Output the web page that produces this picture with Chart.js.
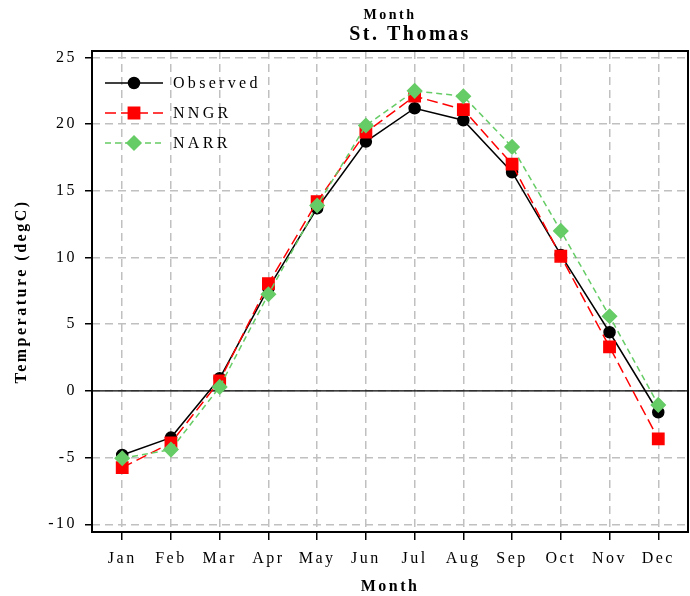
<!DOCTYPE html>
<html>
<head>
<meta charset="utf-8">
<title>St. Thomas</title>
<script src="https://cdn.jsdelivr.net/npm/chart.js@4/dist/chart.umd.min.js"></script>
<style>
  html, body { margin: 0; padding: 0; background: #fff; }
  #chart1 { display: block; }
</style>
</head>
<body>
<canvas id="chart1" width="690" height="596"></canvas>
<script>
const months = ['Jan', 'Feb', 'Mar', 'Apr', 'May', 'Jun', 'Jul', 'Aug', 'Sep', 'Oct', 'Nov', 'Dec'];
const observed = [-4.8, -3.5, 0.95, 7.7, 13.7, 18.7, 21.2, 20.3, 16.4, 10.2, 4.4, -1.6];
const nngr = [-5.75, -3.9, 0.75, 8.05, 14.2, 19.4, 22.1, 21.1, 17.0, 10.1, 3.3, -3.6];
const narr = [-5.05, -4.4, 0.3, 7.25, 13.9, 19.9, 22.5, 22.1, 18.3, 12.0, 5.6, -1.05];
const yTicks = [-10, -5, 0, 5, 10, 15, 20, 25];

const serif = "'Liberation Serif', 'DejaVu Serif', serif";
const toPoints = arr => arr.map((v, i) => ({ x: i, y: v }));

// spaced-out lettering used throughout the plot
const spacing = {
    id: 'spacing',
    beforeUpdate(chart) { chart.ctx.letterSpacing = '2.5px'; },
    beforeDraw(chart) { chart.ctx.letterSpacing = '2.5px'; }
};

// frame around the plot area and the solid line at zero
const frame = {
    id: 'frame',
    beforeDatasetsDraw(chart) {
        const { ctx, chartArea: a, scales } = chart;
        ctx.save();
        const y0 = scales.y.getPixelForValue(0);
        ctx.strokeStyle = '#000';
        ctx.lineWidth = 1.2;
        ctx.beginPath();
        ctx.moveTo(a.left, y0);
        ctx.lineTo(a.right, y0);
        ctx.stroke();
        ctx.lineWidth = 2;
        ctx.strokeRect(a.left, a.top, a.right - a.left, a.bottom - a.top);
        ctx.restore();
    }
};

// the two heading lines above the frame
const headings = {
    id: 'headings',
    afterDraw(chart) {
        const { ctx } = chart;
        ctx.save();
        ctx.letterSpacing = '2.5px';
        ctx.fillStyle = '#000';
        ctx.textAlign = 'center';
        ctx.textBaseline = 'middle';
        ctx.font = 'bold 14px ' + serif;
        ctx.fillText('Month', 390, 15);
        ctx.font = 'bold 20px ' + serif;
        ctx.fillText('St. Thomas', 410, 35);
        ctx.restore();
    }
};

// legend box in the upper left corner, line + marker + name
const insetLegend = {
    id: 'insetLegend',
    afterDraw(chart) {
        const { ctx, chartArea: a } = chart;
        ctx.save();
        ctx.letterSpacing = '3.3px';
        ctx.font = '16px ' + serif;
        ctx.textBaseline = 'middle';
        chart.data.datasets.forEach((ds, i) => {
            const y = a.top + 32 + i * 30;
            const x0 = a.left + 13;
            ctx.strokeStyle = ds.borderColor;
            ctx.lineWidth = ds.borderWidth;
            ctx.setLineDash(ds.borderDash || []);
            ctx.beginPath();
            ctx.moveTo(x0, y);
            ctx.lineTo(x0 + 58, y);
            ctx.stroke();
            ctx.setLineDash([]);
            ctx.fillStyle = ds.pointBackgroundColor;
            ctx.strokeStyle = ds.pointBackgroundColor;
            Chart.helpers.drawPoint(ctx, {
                pointStyle: ds.pointStyle,
                radius: ds.pointRadius,
                rotation: 0,
                borderWidth: 1
            }, x0 + 29, y);
            ctx.fillStyle = '#000';
            ctx.fillText(ds.label, x0 + 68, y + 1);
        });
        ctx.restore();
    }
};

const chart1 = document.getElementById('chart1');
const myChart = new Chart(chart1, {
    type: 'line',
    data: {
        datasets: [{
            label: 'Observed',
            data: toPoints(observed),
            borderColor: '#000000',
            borderWidth: 1.5,
            pointStyle: 'circle',
            pointRadius: 5.5,
            pointBackgroundColor: '#000000',
            pointBorderColor: '#000000',
            order: 3
        }, {
            label: 'NNGR',
            data: toPoints(nngr),
            borderColor: '#ff0000',
            borderWidth: 1.5,
            borderDash: [11, 5],
            pointStyle: 'rect',
            pointRadius: 8,
            pointBackgroundColor: '#ff0000',
            pointBorderColor: '#ff0000',
            order: 2
        }, {
            label: 'NARR',
            data: toPoints(narr),
            borderColor: '#66cc66',
            borderWidth: 1.5,
            borderDash: [6, 4],
            pointStyle: 'rectRot',
            pointRadius: 7,
            pointBackgroundColor: '#66cc66',
            pointBorderColor: '#66cc66',
            order: 1
        }]
    },
    options: {
        responsive: false,
        animation: false,
        layout: { autoPadding: false, padding: { left: 0, right: 2, top: 51, bottom: 0 } },
        plugins: {
            legend: { display: false },
            tooltip: { enabled: false },
            title: { display: false }
        },
        scales: {
            x: {
                type: 'linear',
                min: -0.62,
                max: 11.61,
                afterBuildTicks: scale => { scale.ticks = months.map((m, i) => ({ value: i })); },
                afterFit: scale => {
                    scale.height = 64;
                    scale.paddingLeft = 0;
                    scale.paddingRight = 0;
                },
                ticks: {
                    color: '#000',
                    font: { family: serif, size: 16 },
                    padding: 9,
                    maxRotation: 0,
                    autoSkip: false,
                    callback: value => months[value]
                },
                grid: {
                    color: '#c0c0c0',
                    lineWidth: 1.5,
                    tickColor: '#000',
                    tickWidth: 1.5,
                    tickLength: 8
                },
                border: { display: false, dash: [8, 5] },
                title: {
                    display: true,
                    text: 'Month',
                    color: '#000',
                    font: { family: serif, size: 16, weight: 'bold' },
                    padding: { top: 0, bottom: 0 }
                }
            },
            y: {
                min: -10.58,
                max: 25.49,
                afterBuildTicks: scale => { scale.ticks = yTicks.map(v => ({ value: v })); },
                afterFit: scale => {
                    scale.width = 92;
                    scale.paddingTop = 0;
                    scale.paddingBottom = 0;
                },
                ticks: {
                    color: '#000',
                    font: { family: serif, size: 16 },
                    padding: 8
                },
                grid: {
                    color: '#c0c0c0',
                    lineWidth: 1.5,
                    tickColor: '#000',
                    tickWidth: 1.5,
                    tickLength: 7
                },
                border: { display: false, dash: [8, 5] },
                title: {
                    display: true,
                    text: 'Temperature (degC)',
                    color: '#000',
                    font: { family: serif, size: 16, weight: 'bold' },
                    padding: { top: 12, bottom: 0 }
                }
            }
        }
    },
    plugins: [spacing, frame, headings, insetLegend]
});
</script>
</body>
</html>
